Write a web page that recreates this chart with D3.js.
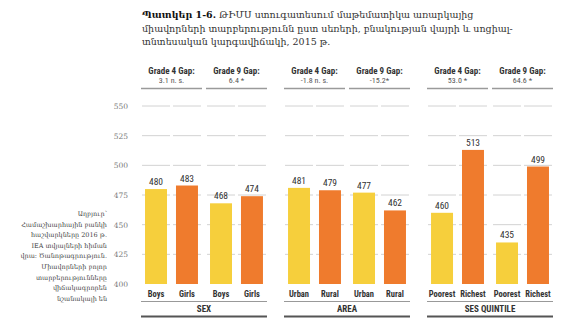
<!DOCTYPE html>
<html><head><meta charset="utf-8">
<script src="https://cdn.jsdelivr.net/npm/d3@7"></script>
<style>body{margin:0;background:#fff}</style>
</head><body>
<script>
const titleBold = "Պատկեր 1-6.";
const titleLines = [
  " ԹԻՄՍ ստուգատեսում մաթեմատիկա  առարկայից",
  "միավորների տարբերությունն ըստ սեռերի, բնակության վայրի և սոցիալ-",
  "տնտեսական կարգավիճակի, 2015 թ."
];
const noteLines = ["Աղբյուր՝", "Համաշխարհային բանկի", "հաշվարկները 2016 թ.", "IEA տվյալների հիման", "վրա: Ծանոթագրություն.", "Միավորների բոլոր", "տարբերությունները", "վիճակագրորեն", "նշանակալի են"];
const groups = ["SEX", "AREA", "SES QUINTILE"];
const grades = ["g4", "g9"];
const gapLabels = {
  SEX: ["3.1 n. s.", "6.4 *"],
  AREA: ["-1.8 n. s.", "-15.2*"],
  "SES QUINTILE": ["53.0 *", "64.6 *"]
};
const gradeTitles = ["Grade 4 Gap:", "Grade 9 Gap:"];
const categories = {
  SEX: ["Boys", "Girls"],
  AREA: ["Urban", "Rural"],
  "SES QUINTILE": ["Poorest", "Richest"]
};
const values = {
  SEX: [[480, 483], [468, 474]],
  AREA: [[481, 479], [477, 462]],
  "SES QUINTILE": [[460, 513], [435, 499]]
};
const yTicks = [400, 425, 450, 475, 500, 525, 550];
const colors = ["#F6CF3C", "#EF7B2D"];

const W = 564, H = 330;
const svg = d3.select("body").append("svg").attr("width", W).attr("height", H);

const y = d3.scaleLinear().domain([400, 550]).range([284, 106]);
const xG = d3.scaleBand().domain(groups).range([141, 553]).paddingInner(0.119);
const xS = d3.scaleBand().domain(grades).range([0, xG.bandwidth()]).paddingInner(4 / 65);
const xC = d3.scaleBand().domain([0, 1]).range([0, xS.bandwidth()]).paddingInner(0.29).paddingOuter(0.13);

const narrow = "'Roboto Condensed', 'Liberation Sans Narrow', 'DejaVu Sans Condensed', 'Roboto', sans-serif";
const serif = "'DejaVu Serif', 'Noto Serif', serif";

// title: fit the second line to the reference width
const title = svg.append("g");
const probe = title.append("text").style("font-family", serif).style("font-size", "10px").text(titleLines[1]);
const titleSize = 10 * 371 / probe.node().getComputedTextLength();
probe.remove();
titleLines.forEach((l, i) => {
  const t = title.append("text").attr("x", 142).attr("y", 18 + i * 13.5)
    .style("font-family", serif).style("font-size", titleSize + "px").attr("fill", "#333");
  if (i === 0) t.append("tspan").attr("font-weight", "bold").attr("fill", "#111").text(titleBold);
  t.append("tspan").text(l);
});

// note
const noteProbe = svg.append("text").style("font-family", serif).style("font-size", "10px").text(noteLines[1]);
const noteSize = 10 * 86 / noteProbe.node().getComputedTextLength();
noteProbe.remove();
svg.append("g").selectAll("text").data(noteLines).join("text")
  .attr("x", 107).attr("y", (d, i) => 216 + i * 10.6)
  .attr("text-anchor", "end")
  .style("font-family", serif).style("font-size", noteSize + "px").attr("fill", "#444")
  .text(d => d);

// y ticks
svg.append("g").selectAll("text").data(yTicks).join("text")
  .attr("x", 128).attr("y", d => y(d) + 3)
  .attr("text-anchor", "end")
  .style("font-family", serif).style("font-size", "7.5px").attr("fill", "#777")
  .text(d => d);

groups.forEach(g => {
  const gx = xG(g);
  const gg = svg.append("g").attr("transform", `translate(${gx},0)`);
  grades.forEach((s, si) => {
    const sx = xS(s);
    const sg = gg.append("g").attr("transform", `translate(${sx},0)`);
    // gridlines
    [0, 1].forEach(c => {
      sg.append("g").selectAll("line").data(yTicks.filter(t => t > 400)).join("line")
        .attr("x1", xC(c) - 3).attr("x2", xC(c) + xC.bandwidth() + 3)
        .attr("y1", d => y(d)).attr("y2", d => y(d))
        .attr("stroke", "#d2d2d2").attr("stroke-width", 1);
    });
    // bars
    sg.selectAll("rect").data(values[g][si]).join("rect")
      .attr("x", (d, i) => xC(i)).attr("width", xC.bandwidth())
      .attr("y", d => y(d)).attr("height", d => y(400) - y(d))
      .attr("fill", (d, i) => colors[i]);
    // value labels
    sg.append("g").selectAll("text").data(values[g][si]).join("text")
      .attr("x", (d, i) => xC(i) + xC.bandwidth() / 2).attr("y", d => y(d) - 4)
      .attr("text-anchor", "middle")
      .style("font-family", narrow).style("font-size", "9.5px").attr("fill", "#333")
      .text(d => d);
    // category labels
    sg.append("g").selectAll("text").data(categories[g]).join("text")
      .attr("x", (d, i) => xC(i) + xC.bandwidth() / 2).attr("y", 297)
      .attr("text-anchor", "middle")
      .style("font-family", narrow).style("font-size", "8.5px").attr("font-weight", "bold").attr("fill", "#333")
      .text(d => d);
    // header
    sg.append("text").attr("x", xS.bandwidth() / 2).attr("y", 74)
      .attr("text-anchor", "middle")
      .style("font-family", narrow).style("font-size", "9px").attr("font-weight", "bold").attr("fill", "#333")
      .text(gradeTitles[si]);
    sg.append("text").attr("x", xS.bandwidth() / 2).attr("y", 83)
      .attr("text-anchor", "middle")
      .style("font-family", narrow).style("font-size", "8px").attr("fill", "#555")
      .text(gapLabels[g][si]);
    sg.append("line").attr("x1", 0).attr("x2", xS.bandwidth())
      .attr("y1", 88.5).attr("y2", 88.5).attr("stroke", "#9a9a9a").attr("stroke-width", 1.5);
  });
  gg.append("line").attr("x1", 0).attr("x2", xG.bandwidth())
    .attr("y1", 301.5).attr("y2", 301.5).attr("stroke", "#999").attr("stroke-width", 1.2);
  gg.append("text").attr("x", xG.bandwidth() / 2).attr("y", 312)
    .attr("text-anchor", "middle")
    .style("font-family", narrow).style("font-size", "9px").attr("font-weight", "bold").attr("fill", "#333")
    .text(g);
  gg.append("line").attr("x1", 0).attr("x2", xG.bandwidth())
    .attr("y1", 316.5).attr("y2", 316.5).attr("stroke", "#555").attr("stroke-width", 2);
});
</script>
</body></html>
